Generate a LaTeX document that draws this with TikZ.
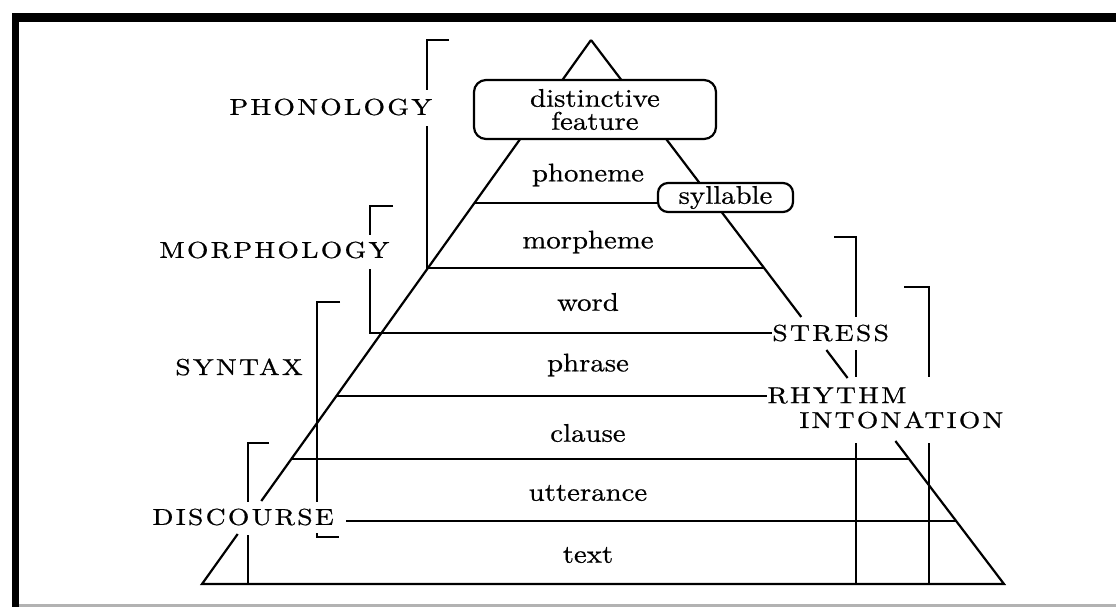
\documentclass[tikz,border=0pt]{standalone}
\usepackage{fontspec}
\usepackage{tikz}
\newfontfamily\capsfont{lmroman10-regular.otf}[FakeStretch=1.2, LetterSpace=10, FakeBold=0.8]
\newfontfamily\unitfont{lmroman10-regular.otf}[FakeStretch=1.13, FakeBold=0.6]

\begin{document}
\begin{tikzpicture}[x=0.5pt,y=-0.5pt]

	\tikzstyle frame=[fill=black];
	\tikzstyle side lines=[line width=1.1pt];
	\tikzstyle level lines=[line width=1pt];
	\tikzstyle bracket=[line width=1.1pt];
	\tikzstyle unit=[font=\unitfont\fontsize{12.75}{11.5}\selectfont, inner sep=1pt];
	\tikzstyle unit box=[draw, line width=1.1pt, rounded corners=6pt, fill=white, align=center, inner sep=0pt, font=\unitfont\fontsize{12.75}{11.5}\selectfont];
	\tikzstyle field label=[font=\capsfont\fontsize{11.5}{13}\selectfont, inner sep=0pt, anchor=west];

	\useasboundingbox (0,0) rectangle (1116,607);

	% page frame
	\fill[frame] (12,13) rectangle (1116,22);
	\fill[frame] (12,13) rectangle (19,607);
	\fill[gray!60] (19,604) rectangle (1116,607);

	\coordinate (apex) at (591,40);
	\coordinate (bl) at (202,584);
	\coordinate (br) at (1004,584);

	% pyramid
	\draw[side lines] (apex) -- (261.3,501);
	\draw[side lines] (237.7,534) -- (bl) -- (br) -- (895.4,441);
	\draw[side lines] (847.6,378) -- (826.4,350);
	\draw[side lines] (801.3,317) -- (apex);

	\node[unit box, minimum width=121pt, minimum height=29.5pt] (feature) at (595,109.5) {distinctive\\feature};
	\node[unit box, minimum width=67.5pt, minimum height=14.5pt, rounded corners=5pt] (syllable) at (725.5,197.5) {syllable};

	\foreach \y/\name/\unitname in {175/phon/phoneme,242/morph/morpheme,302/wrd/word,365/phr/phrase,433/cls/clause,493/utt/utterance,555/txt/text}
		\node[unit] (\name) at (588,\y) {\unitname};

	\node[field label] (phonology) at (229,107) {PHONOLOGY};
	\node[field label] (morphology) at (159,250) {MORPHOLOGY};
	\node[field label] (syntax) at (175,367) {SYNTAX};
	\node[field label] (discourse) at (152,517) {DISCOURSE};
	\node[field label] (stress) at (772,333) {STRESS};
	\node[field label] (rhythm) at (767,395.5) {RHYTHM};
	\node[field label] (intonation) at (799,420) {INTONATION};

	% levels
	\coordinate (l1) at (474.5,203);
	\draw[level lines] (l1) -- (l1 -| syllable.west);
	\draw[level lines] (337,395.5) -- (rhythm.west);
	\draw[level lines] (291.4,459) -- (909.5,459);
	\draw[level lines] (346,521) -- (956,521);

	% brackets
	\draw[bracket] (449,40) -- (427,40) -- (427,90);
	\draw[bracket] (427,126) -- (427,268) -- (764,268);
	\draw[bracket] (393,206) -- (370,206) -- (370,235);
	\draw[bracket] (370,269) -- (370,333) -- (stress.west);
	\draw[bracket] (340,302) -- (317,302) -- (317,502);
	\draw[bracket] (317,533) -- (317,537) -- (339,537);
	\draw[bracket] (269,443) -- (248,443) -- (248,502);
	\draw[bracket] (248,535) -- (248,584);
	\draw[bracket] (834,237) -- (856,237) -- (856,317);
	\draw[bracket] (904,287) -- (929,287) -- (929,377);
	\foreach \x/\top/\bottom in {856/350/377,856/443/584,929/443/584}
		\draw[bracket] (\x,\top) -- (\x,\bottom);

\end{tikzpicture}
\end{document}
